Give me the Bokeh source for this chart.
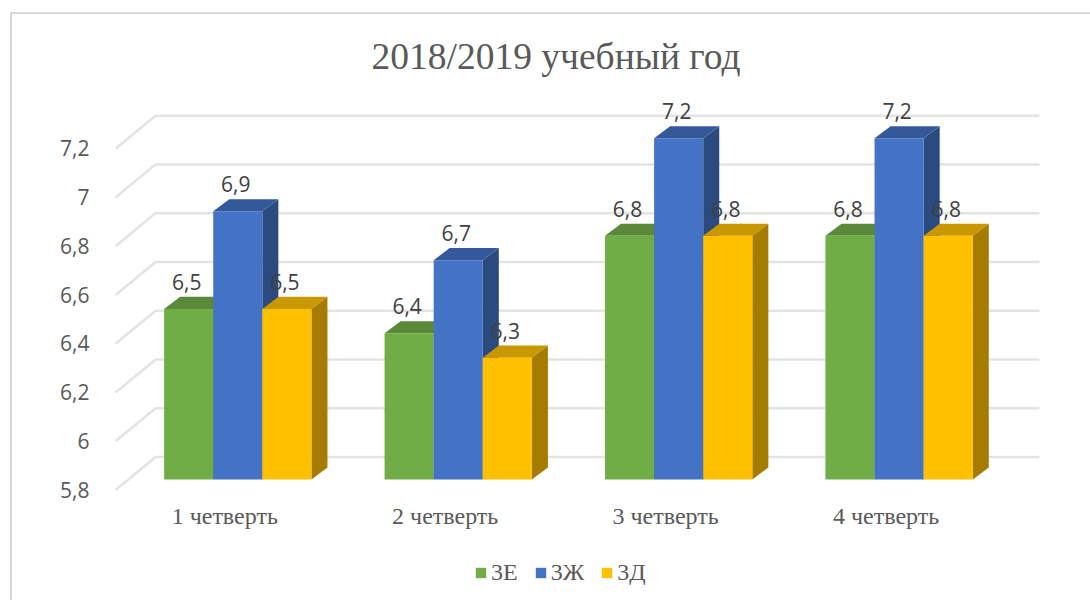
from bokeh.plotting import figure
from bokeh.embed import file_html
from bokeh.resources import INLINE
from bokeh.models import Range1d, LinearAxis, FixedTicker, Legend, LegendItem
from bokeh.core.properties import value

TITLE = "2018/2019 учебный год"
quarters = ["1 четверть", "2 четверть", "3 четверть", "4 четверть"]
series_names = ["3Е", "3Ж", "3Д"]
v_3e = [6.5, 6.4, 6.8, 6.8]
v_3zh = [6.9, 6.7, 7.2, 7.2]
v_3d = [6.5, 6.3, 6.8, 6.8]
y_ticks = [5.8, 6.0, 6.2, 6.4, 6.6, 6.8, 7.0, 7.2]
y_labels = ["5,8", "6", "6,2", "6,4", "6,6", "6,8", "7", "7,2"]
front = ["#70AD47", "#4472C4", "#FFC000"]
top_c = ["#5A8A39", "#34599A", "#C99700"]
side_c = ["#4A7230", "#2A4A80", "#A67C00"]
BASE = 5.8

# page-pixel geometry
PX_Y, PX_X = 242.8, 220.0
OX, OY = 10, 12          # figure's top-left corner on the page
BW = 2                   # border thickness
W, H = 1080, 588
L, R, T, B = 97, 1090, 96, 600
Y0, X1 = 477.5, 237.0
to_x = lambda px: 1 + (px - X1) / PX_X
dy = lambda px: px / PX_Y
bw = 49 / PX_X
dpx, dpy = 16 / PX_X, dy(12)

y_r = Range1d(BASE - dy(B - Y0), BASE + dy(Y0 - T))
x_r = Range1d(to_x(L), to_x(R))
p = figure(width=W, height=H, output_backend="svg", toolbar_location=None,
           x_range=x_r, y_range=y_r, x_axis_type=None, y_axis_type=None,
           min_border_left=L - OX - BW, min_border_right=0, min_border_top=T - OY - BW,
           min_border_bottom=0, margin=(OY, 0, 0, OX))
p.styles = {"border-left": "2px solid #d9d9d9", "border-top": "2px solid #d9d9d9", "box-sizing": "border-box"}
p.outline_line_color = None
p.grid.visible = False
p.background_fill_color = "white"

p.title.text = TITLE
p.title.text_font = "Liberation Serif"
p.title.text_font_size = "37.5px"
p.title.text_font_style = "normal"
p.title.text_color = "#595959"
p.title.align = "left"
p.title.offset = 274
p.title.standoff = 39

# 3D walls: floor-to-back gridlines
gx, gy = [], []
for v in y_ticks:
    gx.append([to_x(115), to_x(155), to_x(1037)])
    gy.append([v - dy(10.5), v + dy(22.5), v + dy(22.5)])
p.multi_line(gx, gy, line_color="#e3e3e3", line_width=2.5)

# y axis, shifted onto the front edge of the wall
p.extra_y_ranges["ax"] = Range1d(y_r.start + dy(10), y_r.end + dy(10))
ya = LinearAxis(y_range_name="ax", ticker=FixedTicker(ticks=y_ticks),
                major_label_overrides={t: l for t, l in zip(y_ticks, y_labels)},
                axis_line_color=None, major_tick_line_color=None, minor_tick_line_color=None,
                major_label_text_font="Open Sans", major_label_text_font_size="21px",
                major_label_text_color="#595959", major_label_standoff=2)
p.add_layout(ya, "left")

# x axis, held inside the frame so the legend can sit beneath it
shift = 13 / PX_X
p.extra_x_ranges["ax"] = Range1d(x_r.start + shift, x_r.end + shift)
xa = LinearAxis(x_range_name="ax", ticker=FixedTicker(ticks=[1, 2, 3, 4]),
                fixed_location=BASE - dy(12),
                major_label_overrides={i + 1: q for i, q in enumerate(quarters)},
                axis_line_color=None, major_tick_line_color=None, minor_tick_line_color=None,
                major_label_text_font="Liberation Serif", major_label_text_font_size="24px",
                major_label_text_color="#595959", major_label_standoff=5)
p.add_layout(xa, "below")

# Bars
items = []
for s, vals in enumerate([v_3e, v_3zh, v_3d]):
    xs = [i + 1 + (s - 1) * bw for i in range(4)]
    side_x, side_y, top_x, top_y = [], [], [], []
    for x, v in zip(xs, vals):
        r = x + bw / 2
        l = x - bw / 2
        side_x.append([r, r + dpx, r + dpx, r])
        side_y.append([BASE, BASE + dpy, v + dpy, v])
        top_x.append([l, r, r + dpx, l + dpx])
        top_y.append([v, v, v + dpy, v + dpy])
    p.patches(side_x, side_y, fill_color=side_c[s], line_color=None)
    p.patches(top_x, top_y, fill_color=top_c[s], line_color=None)
    bar = p.vbar(x=xs, top=vals, bottom=BASE, width=bw, fill_color=front[s], line_color=None)
    items.append(LegendItem(label=series_names[s], renderers=[bar]))

# Data labels, above all bars
for s, vals in enumerate([v_3e, v_3zh, v_3d]):
    xs = [i + 1 + (s - 1) * bw - 2 / PX_X for i in range(4)]
    p.text(xs, [v + dy(27) for v in vals], text=[f"{v:.1f}".replace(".", ",") for v in vals],
           text_font=value("Open Sans"), text_font_size="21px", text_color="#404040",
           text_align="center", text_baseline="middle")

leg = Legend(items=items, orientation="horizontal", location=(377, 16), border_line_color=None,
             background_fill_alpha=0, label_text_font="Liberation Serif", label_text_font_size="24px",
             label_text_color="#595959", glyph_width=13, glyph_height=13, spacing=16, label_standoff=4,
             margin=0, padding=0)
p.add_layout(leg, "center")

open("out.html", "w").write(file_html(p, INLINE))
